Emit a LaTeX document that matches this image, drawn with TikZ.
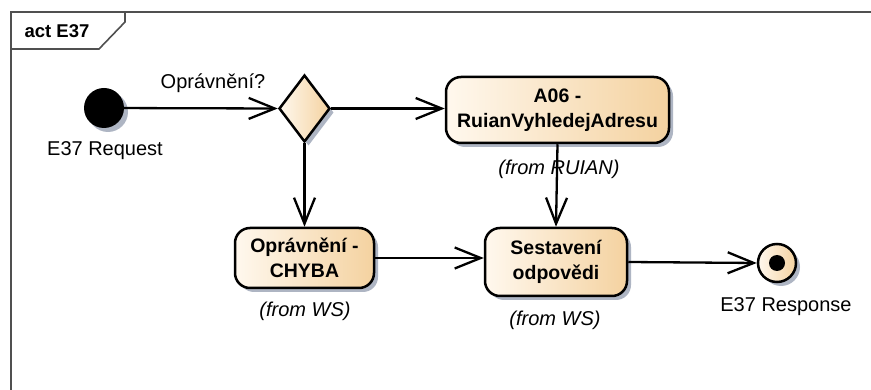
\documentclass[tikz,border=0pt]{standalone}
\usepackage{fontspec}
\setmainfont{Liberation Sans}
\usetikzlibrary{arrows.meta,shapes.geometric,shadows,positioning}
\definecolor{boxL}{HTML}{FFF8EE}
\definecolor{boxR}{HTML}{F4D2A0}
\definecolor{shd}{HTML}{9AA3B5}
\definecolor{framec}{HTML}{505050}
\tikzset{
  arr/.style={line width=2.3pt,-{Straight Barb[length=26pt,width=21pt,line width=2.3pt]}},
  shad/.style={drop shadow={shadow xshift=4pt,shadow yshift=-4pt,fill=shd,opacity=0.8}},
  actbox/.style={draw=black,line width=2.5pt,rounded corners=15pt,left color=boxL,right color=boxR,
    shad,align=center,font=\fontsize{19.5}{25}\selectfont\bfseries,inner sep=0pt},
  lbl/.style={font=\fontsize{20}{24}\selectfont,inner sep=0pt},
  from/.style={font=\fontsize{20}{24}\selectfont\itshape,inner sep=0pt},
}
\begin{document}
\begin{tikzpicture}[x=1pt,y=-1pt]
\useasboundingbox (0,0) rectangle (871,390);
\fill[white] (0,0) rectangle (871,390);
% frame
\draw[framec,line width=1.6pt] (11,392) -- (11,12) -- (873,12);
\draw[framec,line width=1.6pt] (11,49) -- (99,49) -- (125,22) -- (125,12);
\node[font=\fontsize{18.5}{22}\selectfont\bfseries,inner sep=0pt] (title) at (57,31) {act E37};
% nodes
\node[circle,fill=black,minimum size=40pt,inner sep=0pt,shad] (init) at (104,108) {};
\node[lbl] (initl) at (105,151) {E37 Request};
\node[diamond,draw=black,line width=2.5pt,minimum width=51pt,minimum height=67pt,inner sep=0pt,
  left color=boxL,right color=boxR,shad] (dec) at (304.5,108.5) {};
\node[lbl] (decl) at (213,83) {Oprávnění?};
\node[actbox,minimum width=223pt,minimum height=66pt] (A06) at (557.5,110) {A06 -\\RuianVyhledejAdresu};
\node[from] (A06f) at (559,169) {(from RUIAN)};
\node[actbox,minimum width=139pt,minimum height=60pt] (chyba) at (304.5,258) {Oprávnění -\\CHYBA};
\node[from] (chybaf) at (305,311) {(from WS)};
\node[actbox,minimum width=142pt,minimum height=68pt] (sest) at (556,262) {Sestavení\\odpovědi};
\node[from] (sestf) at (555,320) {(from WS)};
\node[circle,draw=black,line width=2.5pt,minimum size=38pt,inner sep=0pt,left color=boxL,right color=boxR,shad] (fin) at (777,263) {};
\node[circle,fill=black,minimum size=16pt,inner sep=0pt] (findot) at (fin.center) {};
\node[lbl] (finl) at (786,307) {E37 Response};
% edges
\draw[arr] (init) -- (dec.west);
\draw[arr] (dec.east) -- (dec.east -| A06.west);
\draw[arr] (dec.south) -- (dec.south |- chyba.north);
\draw[arr] (A06.south) -- (sest.north);
\draw[arr] (chyba.east) -- (chyba.east -| sest.west);
\draw[arr] (sest.east) -- (fin.west);
\end{tikzpicture}
\end{document}
